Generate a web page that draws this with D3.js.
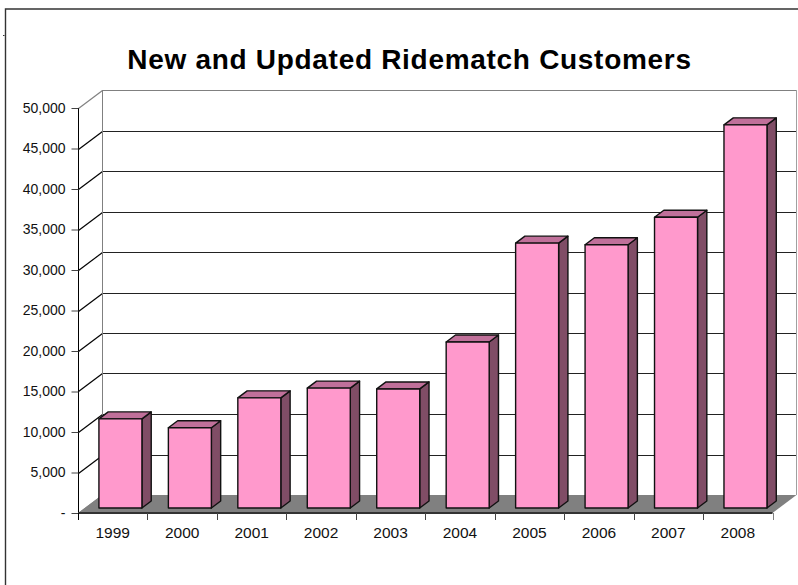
<!DOCTYPE html>
<html>
<head>
<meta charset="utf-8">
<script src="https://cdn.jsdelivr.net/npm/d3@7"></script>
<style>
html,body{margin:0;padding:0;background:#fff}
svg{display:block;font-family:"Liberation Sans",Arial,sans-serif}
</style>
</head>
<body>
<svg id="chart" width="798" height="585"></svg>
<script>
const years = ["1999","2000","2001","2002","2003","2004","2005","2006","2007","2008"];
const customers = [11000,9900,13600,14800,14700,20500,32700,32500,35900,47300];
const yTicks = [0,5000,10000,15000,20000,25000,30000,35000,40000,45000,50000];
const chartTitle = "New and Updated Ridematch Customers";

const svg = d3.select("#chart");
const x = d3.scaleBand().domain(years).range([78,772.5]).paddingInner(0).paddingOuter(0);
const y = d3.scaleLinear().domain([0,50000]).range([513,108]);

// Oblique projection offsets
const wallDx = 24, wallDy = -18;       // full plot depth
const barDx = 9.3, barDy = -7;         // depth of a single bar
const barShiftX = 7.7, barShiftY = -5; // bars stand slightly behind the front edge
const barWidth = 43;

const pts = a => a.map(p => p.join(",")).join(" ");

// Outer chart border
svg.append("path").attr("d","M798.5,9H5.5V585").attr("fill","none").attr("stroke","#333").attr("stroke-width",1.4);
svg.append("path").attr("d","M3,35.5H4.5").attr("stroke","#333");

const [x0,x1] = x.range();
const y0 = y(0);

// Floor
svg.append("polygon")
  .attr("points",pts([[x0,y0],[x0+wallDx,y0+wallDy],[x1+wallDx,y0+wallDy],[x1,y0]]))
  .attr("fill","#808080");

// Gridlines across the side and back walls
const grid = svg.append("g").attr("fill","none").attr("stroke-width",1.2);
yTicks.forEach(t => {
  const yy = Math.round(y(t))+0.5;
  const c = (t===0||t===50000) ? "#808080" : "#000";
  if (t>0) grid.append("path")
    .attr("d",`M${x0+wallDx+.5},${yy+wallDy}H${x1+wallDx}`)
    .attr("stroke",t===50000?"#808080":"#222");
  grid.append("path")
    .attr("d",`M${x0+.5},${yy}L${x0+wallDx+.5},${yy+wallDy}`)
    .attr("stroke",c);
});
// Back wall outline
svg.append("path")
  .attr("d",`M${x0+wallDx+.5},${y(50000)+wallDy}V${y0+wallDy}`)
  .attr("stroke","#808080").attr("fill","none");
svg.append("path")
  .attr("d",`M${x1+wallDx},${y(50000)+wallDy}V${y0+wallDy}`)
  .attr("stroke","#a0a0a0").attr("fill","none");

// Value axis
const yAxis = d3.axisLeft(y)
  .tickValues(yTicks)
  .tickSize(7)
  .tickPadding(6)
  .tickFormat(d => d===0 ? "-" : d3.format(",")(d));
const gy = svg.append("g").attr("transform",`translate(${x0+.5},0)`).call(yAxis);
gy.select(".domain").attr("stroke","#000").attr("d",`M0,${y(50000)}V${y0}`);
gy.selectAll("line").attr("stroke","#444");
gy.selectAll("text").attr("font-size",14).attr("fill","#111").attr("font-family","'Liberation Sans',Arial,sans-serif");

// Category axis
svg.append("rect").attr("x",x0).attr("y",y0-1).attr("width",x1-x0).attr("height",2).attr("fill","#333");
const xAxis = d3.axisBottom(x).tickSize(0).tickPadding(14);
const gx = svg.append("g").attr("transform",`translate(0,${y0})`).call(xAxis);
gx.select(".domain").remove();
gx.selectAll("text").attr("font-size",15.5).attr("fill","#111").attr("font-family","'Liberation Sans',Arial,sans-serif");
svg.append("g").selectAll("line").data(years.concat(["end"])).join("line")
  .attr("x1",(d,i)=>Math.round(x0+i*x.step())+.5)
  .attr("x2",(d,i)=>Math.round(x0+i*x.step())+.5)
  .attr("y1",y0).attr("y2",y0+7)
  .attr("stroke",(d,i)=>i===0?"#000":(i===years.length?"#808080":"#444"));

// Bars: front, side and top faces
const bars = svg.append("g").selectAll("g").data(years.map((d,i)=>({year:d,value:customers[i]}))).join("g")
  .attr("stroke","#111").attr("stroke-width",1.4).attr("stroke-linejoin","round");

const barLeft = d => x(d.year)+x.step()/2-barWidth/2+barShiftX;
const barTop = d => y(d.value)+barShiftY;
const barBottom = y0+barShiftY;

bars.append("polygon").attr("fill","#804d66")
  .attr("points",d=>{const r=barLeft(d)+barWidth;return pts([[r,barTop(d)],[r+barDx,barTop(d)+barDy],[r+barDx,barBottom+barDy],[r,barBottom]]);});
bars.append("polygon").attr("fill","#c0709a")
  .attr("points",d=>{const l=barLeft(d),r=l+barWidth,t=barTop(d);return pts([[l,t],[l+barDx,t+barDy],[r+barDx,t+barDy],[r,t]]);});
bars.append("rect").attr("fill","#ff99cc")
  .attr("x",barLeft).attr("y",barTop).attr("width",barWidth).attr("height",d=>barBottom-barTop(d));

// Title
svg.append("text").attr("x",409.5).attr("y",68.5).attr("text-anchor","middle")
  .attr("font-size",28).attr("letter-spacing",0.7).attr("font-weight","bold").attr("fill","#000").text(chartTitle);
</script>
</body>
</html>
